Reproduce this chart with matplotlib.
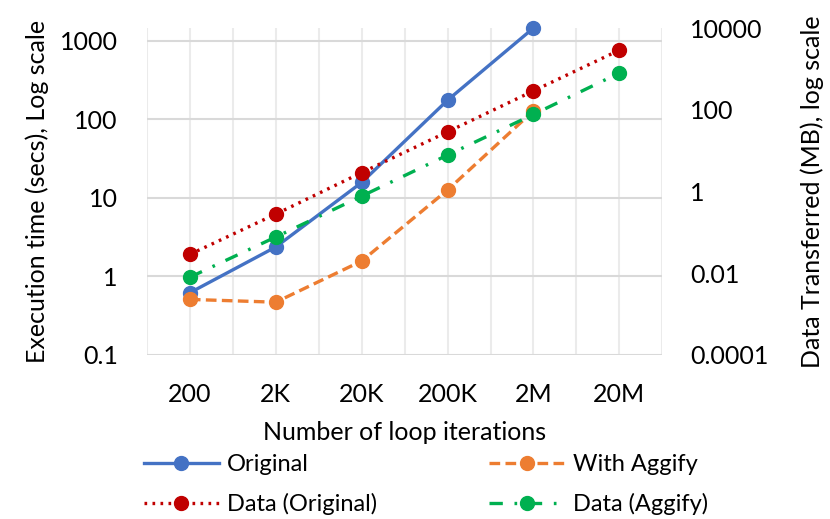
import matplotlib.pyplot as plt
import numpy as np

plt.rcParams['font.family'] = ['Lato', 'DejaVu Sans']

# categories and series
iterations = ['200', '2K', '20K', '200K', '2M', '20M']
time_original = [0.62, 2.37, 15.7, 175, 1450]
time_aggify = [0.51, 0.47, 1.57, 12.6, 128]
data_original = [0.029, 0.28, 2.9, 28.8, 290, 2880]
data_aggify = [0.008, 0.077, 0.77, 7.8, 77, 795]

left_ticks = [0.1, 1, 10, 100, 1000]
left_labels = ['0.1', '1', '10', '100', '1000']
right_ticks = [0.0001, 0.01, 1, 100, 10000]
right_labels = ['0.0001', '0.01', '1', '100', '10000']

x = np.arange(len(iterations)) + 0.5

fig = plt.figure(figsize=(8.3, 5.19), dpi=100)
ax = fig.add_axes([0.177, 0.316, 0.621, 0.630])
ax2 = ax.twinx()

fs = 18
ms = 10

l1, = ax.plot(x[:len(time_original)], time_original, color='#4472C4', lw=2.4,
              marker='o', ms=ms, label='Original', clip_on=False, zorder=3)
l2, = ax.plot(x[:len(time_aggify)], time_aggify, color='#ED7D31', lw=2.4, ls=(0, (3.2, 1.6)),
              marker='o', ms=ms, label='With Aggify', clip_on=False, zorder=3)
l3, = ax2.plot(x, data_original, color='#C00000', lw=2.4, ls=(0, (0.8, 1.6)),
               marker='o', ms=ms, label='Data (Original)', clip_on=False, zorder=3)
l4, = ax2.plot(x, data_aggify, color='#00B050', lw=2.4, ls=(0, (4, 3.5, 0.8, 3.5)),
               marker='o', ms=ms, label='Data (Aggify)', clip_on=False, zorder=3)

ax.set_yscale('log')
ax.set_ylim(0.1, 1450)
ax.set_yticks(left_ticks)
ax.set_yticklabels(left_labels)
ax.minorticks_off()
ax2.set_yscale('log')
ax2.set_ylim(0.0001, 10000)
ax2.set_yticks(right_ticks)
ax2.set_yticklabels(right_labels)
ax2.minorticks_off()

ax.set_xlim(0, len(iterations))
ax.set_xticks(x)
ax.set_xticklabels(iterations)
ax.set_xticks(np.arange(0, len(iterations) + 0.5, 0.5), minor=True)

ax.grid(True, axis='y', color='#D9D9D9', lw=1.5)
ax.grid(True, axis='x', which='both', color='#EBEBEB', lw=1.5)
ax.set_axisbelow(True)

for a in (ax, ax2):
    for s in a.spines.values():
        s.set_visible(False)
    a.tick_params(length=0, which='both', labelsize=fs)
ax.tick_params(axis='y', pad=21)
ax.tick_params(axis='x', pad=20)
ax2.tick_params(axis='y', pad=20)

ax.set_xlabel('Number of loop iterations', fontsize=fs, labelpad=11)
ax.set_ylabel('Execution time (secs), Log scale', fontsize=fs, labelpad=8)
ax2.set_ylabel('Data Transferred (MB), log scale', fontsize=fs, labelpad=23)

fig.legend(handles=[l1, l3, l2, l4], ncol=2, loc='center', bbox_to_anchor=(0.513, 0.066),
           frameon=False, fontsize=17, handlelength=3.2, columnspacing=4.75,
           handletextpad=0.34, labelspacing=0.75)

fig.savefig('out.png', dpi=100)
